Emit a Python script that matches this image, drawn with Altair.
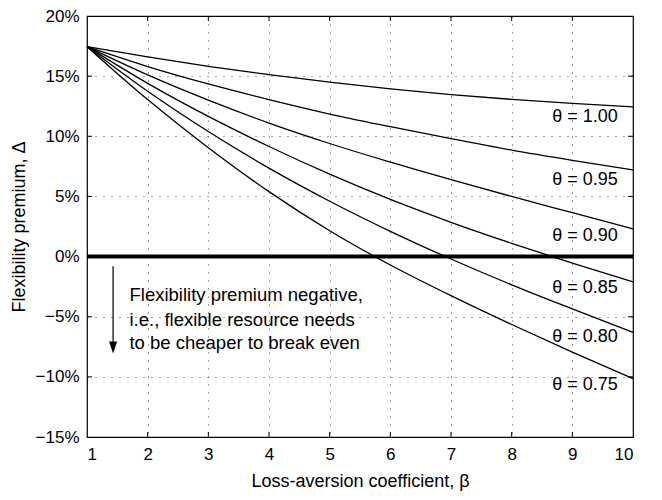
import altair as alt
import pandas as pd

# ---- data ----
beta = [1, 2, 3, 4, 5, 6, 7, 8, 9, 10]
theta_names = ["1.00", "0.95", "0.90", "0.85", "0.80", "0.75"]
prem_100 = [17.45, 16.6, 15.82, 15.12, 14.5, 13.95, 13.47, 13.07, 12.73, 12.45]
prem_095 = [17.45, 15.8, 14.35, 13.05, 11.85, 10.8, 9.8, 8.85, 8.0, 7.2]
prem_090 = [17.45, 15.1, 13.0, 11.1, 9.4, 7.85, 6.4, 5.0, 3.65, 2.3]
prem_085 = [17.45, 14.4, 11.65, 9.15, 6.85, 4.75, 2.85, 1.1, -0.55, -2.1]
prem_080 = [17.45, 13.75, 10.4, 7.35, 4.6, 2.1, -0.2, -2.35, -4.35, -6.3]
prem_075 = [17.45, 13.05, 9.05, 5.4, 2.15, -0.7, -3.25, -5.65, -7.95, -10.15]
series = [prem_100, prem_095, prem_090, prem_085, prem_080, prem_075]

label_beta = 9.75
label_prem = [11.57, 6.37, 1.68, -2.6, -6.67, -10.65]

note_lines = ["Flexibility premium negative,",
              "i.e., flexible resource needs",
              "to be cheaper to break even"]
note_beta = 1.70
note_prem = [-3.17, -5.28, -7.15]

arrow_beta = 1.43
arrow_top = -0.8
arrow_head = -7.55

x_ticks = [1, 2, 3, 4, 5, 6, 7, 8, 9, 10]
y_ticks = [-15, -10, -5, 0, 5, 10, 15, 20]

W, H = 546, 421
FONT = "Liberation Sans"

rows = []
for name, vals in zip(theta_names, series):
    for b, v in zip(beta, vals):
        rows.append({"beta": b, "delta": v / 100.0, "theta": name})
lines_df = pd.DataFrame(rows)

labels_df = pd.DataFrame({
    "beta": [label_beta] * len(theta_names),
    "delta": [v / 100.0 for v in label_prem],
    "text": ["θ = " + t for t in theta_names],
})
note_df = pd.DataFrame({
    "beta": [note_beta] * 3,
    "delta": [v / 100.0 for v in note_prem],
    "text": note_lines,
})
zero_df = pd.DataFrame({"beta": [beta[0]], "beta2": [beta[-1]], "delta": [0.0]})
arrow_df = pd.DataFrame({"beta": [arrow_beta], "top": [arrow_top / 100.0],
                         "head": [arrow_head / 100.0]})
xt_df = pd.DataFrame({"beta": x_ticks[1:-1]})
yt_df = pd.DataFrame({"delta": [v / 100.0 for v in y_ticks[1:-1]]})

xscale = alt.Scale(domain=[1, 10], nice=False, zero=False)
yscale = alt.Scale(domain=[-0.15, 0.20], nice=False, zero=False)

xaxis = alt.Axis(values=x_ticks, title="Loss-aversion coefficient, β", format="d",
                 grid=True, ticks=False, domain=False, labelPadding=9,
                 titlePadding=10)
yaxis = alt.Axis(values=[v / 100.0 for v in y_ticks], format=".0%",
                 title="Flexibility premium, Δ", grid=True, ticks=False,
                 domain=False, labelPadding=8, titlePadding=7)

curves = alt.Chart(lines_df).mark_line(
    color="black", strokeWidth=1.3, interpolate="monotone"
).encode(
    x=alt.X("beta:Q", scale=xscale, axis=xaxis),
    y=alt.Y("delta:Q", scale=yscale, axis=yaxis),
    detail="theta:N",
)

zero = alt.Chart(zero_df).mark_rule(color="black", strokeWidth=4).encode(
    x=alt.X("beta:Q", scale=xscale), x2="beta2:Q",
    y=alt.Y("delta:Q", scale=yscale),
)

labels = alt.Chart(labels_df).mark_text(
    align="right", baseline="middle", font=FONT, fontSize=18, color="black"
).encode(
    x=alt.X("beta:Q", scale=xscale), y=alt.Y("delta:Q", scale=yscale), text="text:N"
)

note = alt.Chart(note_df).mark_text(
    align="left", baseline="middle", font=FONT, fontSize=18.5, color="black"
).encode(
    x=alt.X("beta:Q", scale=xscale), y=alt.Y("delta:Q", scale=yscale), text="text:N"
)

arrow_line = alt.Chart(arrow_df).mark_rule(color="black", strokeWidth=1.2).encode(
    x=alt.X("beta:Q", scale=xscale),
    y=alt.Y("top:Q", scale=yscale), y2="head:Q",
)
arrow_tip = alt.Chart(arrow_df).mark_point(
    shape="M-0.67,-1L0.67,-1L0,1Z", filled=True, color="black", size=144, opacity=1
).encode(
    x=alt.X("beta:Q", scale=xscale), y=alt.Y("head:Q", scale=yscale)
)

tick_top = alt.Chart(xt_df).mark_rule(color="black").encode(
    x=alt.X("beta:Q", scale=xscale), y=alt.value(0), y2=alt.value(5))
tick_bot = alt.Chart(xt_df).mark_rule(color="black").encode(
    x=alt.X("beta:Q", scale=xscale), y=alt.value(H), y2=alt.value(H - 5))
tick_left = alt.Chart(yt_df).mark_rule(color="black").encode(
    y=alt.Y("delta:Q", scale=yscale), x=alt.value(0), x2=alt.value(5))
tick_right = alt.Chart(yt_df).mark_rule(color="black").encode(
    y=alt.Y("delta:Q", scale=yscale), x=alt.value(W), x2=alt.value(W - 5))

chart = alt.layer(
    curves, zero, labels, note, arrow_line, arrow_tip,
    tick_top, tick_bot, tick_left, tick_right,
).properties(
    width=W, height=H, autosize="none", background="white",
    padding={"left": 79, "top": 8, "right": 21, "bottom": 55},
).configure_view(
    stroke="black", strokeWidth=1.2
).configure_axis(
    labelFont=FONT, labelFontSize=17, labelColor="black",
    titleFont=FONT, titleFontSize=18, titleColor="black", titleFontWeight="normal",
    gridColor="#222", gridDash=[1, 7], gridWidth=1, gridOpacity=0.8,
)

chart.save("out.html", embed_options={"renderer": "svg", "actions": False})
